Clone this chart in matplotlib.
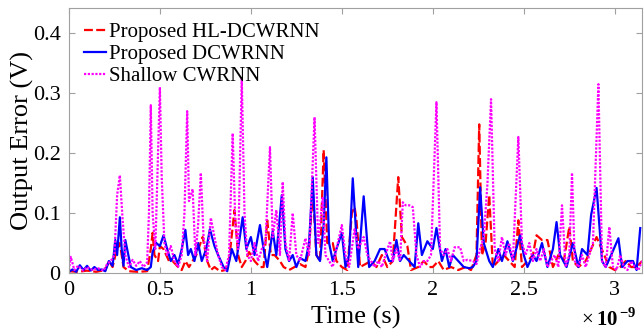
import matplotlib
matplotlib.use("Agg")
import matplotlib.pyplot as plt

plt.rcParams['font.family'] = ['Liberation Serif', 'DejaVu Serif']
plt.rcParams['mathtext.fontset'] = 'custom'
plt.rcParams['mathtext.rm'] = 'Liberation Serif'
plt.rcParams['mathtext.bf'] = 'Liberation Serif:bold'

# time in units of 1e-9 s
t_hl = [0, 0.05, 0.1, 0.15, 0.2, 0.22, 0.24, 0.26, 0.28, 0.3,
        0.33, 0.38, 0.43, 0.45, 0.46, 0.47, 0.49, 0.5, 0.52, 0.55,
        0.57, 0.6, 0.62, 0.64, 0.66, 0.68, 0.7, 0.735, 0.76, 0.78,
        0.8, 0.83, 0.86, 0.88, 0.91, 0.93, 0.95, 0.97, 0.99, 1.02,
        1.05, 1.07, 1.09, 1.11, 1.13, 1.16, 1.18, 1.21, 1.24, 1.27,
        1.3, 1.32, 1.34, 1.36, 1.38, 1.4, 1.42, 1.45, 1.47, 1.5,
        1.53, 1.555, 1.57, 1.58, 1.6, 1.63, 1.66, 1.69, 1.72, 1.75,
        1.78, 1.81, 1.83, 1.86, 1.88, 1.92, 1.95, 1.98, 2.0, 2.03,
        2.06, 2.1, 2.14, 2.18, 2.21, 2.24, 2.255, 2.27, 2.29, 2.31,
        2.33, 2.36, 2.39, 2.42, 2.45, 2.47, 2.49, 2.52, 2.55, 2.57,
        2.6, 2.63, 2.66, 2.69, 2.72, 2.75, 2.77, 2.8, 2.84, 2.87,
        2.9, 2.935, 2.97, 3.0, 3.03, 3.06, 3.09, 3.12, 3.15]
v_hl = [0.003, 0.002, 0.004, 0.002, 0.005, 0.02, 0.01, 0.035, 0.05, 0.01,
        0.003, 0.002, 0.003, 0.04, 0.067, 0.03, 0.02, 0.045, 0.04, 0.02,
        0.02, 0.01, 0.005, 0.02, 0.01, 0.02, 0.03, 0.06, 0.02, 0.005,
        0.01, 0.003, 0.005, 0.02, 0.105, 0.03, 0.01, 0.02, 0.035, 0.02,
        0.01, 0.01, 0.088, 0.03, 0.03, 0.02, 0.01, 0.005, 0.01, 0.015,
        0.01, 0.04, 0.14, 0.03, 0.02, 0.205, 0.05, 0.05, 0.02, 0.01,
        0.005, 0.1, 0.11, 0.09, 0.01, 0.015, 0.02, 0.01, 0.03, 0.01,
        0.02, 0.16, 0.06, 0.045, 0.005, 0.01, 0.02, 0.01, 0.01, 0.02,
        0.005, 0.01, 0.005, 0.01, 0.005, 0.03, 0.248, 0.03, 0.05, 0.13,
        0.01, 0.02, 0.03, 0.02, 0.01, 0.088, 0.01, 0.02, 0.03, 0.063,
        0.055, 0.055, 0.01, 0.03, 0.02, 0.077, 0.02, 0.01, 0.02, 0.04,
        0.06, 0.035, 0.01, 0.005, 0.01, 0.02, 0.01, 0.01, 0.02]

t_dc = [0, 0.02, 0.04, 0.06, 0.08, 0.1, 0.12, 0.14, 0.16, 0.18,
        0.2, 0.22, 0.24, 0.255, 0.265, 0.28, 0.29, 0.3, 0.31, 0.32,
        0.34, 0.37, 0.4, 0.43, 0.45, 0.46, 0.48, 0.5, 0.52, 0.54,
        0.56, 0.58, 0.6, 0.62, 0.64, 0.655, 0.67, 0.69, 0.71, 0.73,
        0.755, 0.775, 0.8, 0.82, 0.85, 0.87, 0.895, 0.92, 0.955, 0.975,
        1.0, 1.02, 1.05, 1.07, 1.09, 1.12, 1.14, 1.17, 1.19, 1.21,
        1.23, 1.25, 1.27, 1.3, 1.32, 1.34, 1.36, 1.38, 1.4, 1.415,
        1.43, 1.45, 1.47, 1.5, 1.52, 1.54, 1.56, 1.59, 1.62, 1.65,
        1.68, 1.71, 1.735, 1.76, 1.78, 1.8, 1.82, 1.84, 1.87, 1.9,
        1.92, 1.94, 1.97, 2.0, 2.02, 2.05, 2.07, 2.09, 2.11, 2.14,
        2.17, 2.2, 2.22, 2.24, 2.26, 2.28, 2.31, 2.33, 2.36, 2.38,
        2.41, 2.44, 2.48, 2.5, 2.52, 2.55, 2.57, 2.6, 2.63, 2.66,
        2.68, 2.7, 2.735, 2.77, 2.8, 2.82, 2.85, 2.87, 2.9, 2.93,
        2.95, 2.98, 3.02, 3.04, 3.07, 3.1, 3.12, 3.14]
v_dc = [0.002, 0.006, 0.002, 0.013, 0.005, 0.012, 0.004, 0.01, 0.005, 0.006,
        0.003, 0.02, 0.012, 0.055, 0.03, 0.093, 0.04, 0.012, 0.055, 0.04,
        0.01, 0.005, 0.008, 0.005, 0.01, 0.035, 0.05, 0.045, 0.063, 0.04,
        0.02, 0.03, 0.015, 0.04, 0.072, 0.03, 0.04, 0.02, 0.05, 0.02,
        0.04, 0.073, 0.045, 0.03, 0.01, 0.003, 0.04, 0.02, 0.093, 0.04,
        0.06, 0.03, 0.08, 0.04, 0.01, 0.07, 0.03, 0.13, 0.04, 0.02,
        0.03, 0.01, 0.025, 0.02, 0.05, 0.16, 0.03, 0.02, 0.08, 0.193,
        0.05, 0.02, 0.04, 0.067, 0.01, 0.03, 0.158, 0.01, 0.128, 0.01,
        0.02, 0.04, 0.04, 0.02, 0.02, 0.055, 0.02, 0.03, 0.02, 0.01,
        0.083, 0.03, 0.053, 0.04, 0.075, 0.02, 0.04, 0.01, 0.03, 0.02,
        0.01, 0.008, 0.01, 0.02, 0.143, 0.05, 0.02, 0.01, 0.04, 0.02,
        0.053, 0.02, 0.063, 0.03, 0.01, 0.03, 0.02, 0.05, 0.01, 0.04,
        0.085, 0.03, 0.01, 0.05, 0.01, 0.04, 0.03, 0.097, 0.142, 0.02,
        0.01, 0.03, 0.058, 0.01, 0.02, 0.02, 0.005, 0.075]

t_sh = [0, 0.01, 0.03, 0.05, 0.08, 0.1, 0.13, 0.16, 0.19, 0.21,
        0.23, 0.25, 0.265, 0.28, 0.295, 0.31, 0.33, 0.35, 0.37, 0.39,
        0.41, 0.43, 0.44, 0.45, 0.46, 0.475, 0.49, 0.5, 0.51, 0.525,
        0.54, 0.56, 0.58, 0.6, 0.62, 0.635, 0.65, 0.66, 0.68, 0.695,
        0.71, 0.725, 0.74, 0.76, 0.78, 0.8, 0.82, 0.84, 0.86, 0.88,
        0.9, 0.915, 0.93, 0.95, 0.965, 0.98, 1.0, 1.02, 1.04, 1.06,
        1.08, 1.105, 1.12, 1.14, 1.16, 1.175, 1.19, 1.21, 1.23, 1.25,
        1.27, 1.3, 1.32, 1.35, 1.37, 1.395, 1.41, 1.43, 1.45, 1.47,
        1.5, 1.52, 1.54, 1.57, 1.59, 1.62, 1.64, 1.66, 1.68, 1.7,
        1.72, 1.74, 1.765, 1.78, 1.8, 1.82, 1.835, 1.85, 1.87, 1.89,
        1.91, 1.93, 1.95, 1.97, 1.99, 2.02, 2.04, 2.06, 2.08, 2.1,
        2.12, 2.15, 2.17, 2.19, 2.22, 2.24, 2.26, 2.28, 2.3, 2.32,
        2.34, 2.36, 2.38, 2.4, 2.42, 2.44, 2.47, 2.49, 2.51, 2.53,
        2.55, 2.57, 2.59, 2.61, 2.63, 2.65, 2.67, 2.69, 2.71, 2.73,
        2.75, 2.765, 2.78, 2.8, 2.82, 2.84, 2.86, 2.88, 2.91, 2.93,
        2.95, 2.97, 2.99, 3.01, 3.03, 3.05, 3.07, 3.09, 3.11, 3.13,
        3.15]
v_sh = [0.005, 0.027, 0.005, 0.012, 0.004, 0.01, 0.005, 0.008, 0.004, 0.015,
        0.02, 0.03, 0.13, 0.163, 0.09, 0.03, 0.01, 0.022, 0.012, 0.02,
        0.01, 0.018, 0.1, 0.28, 0.1, 0.04, 0.2, 0.31, 0.16, 0.05,
        0.03, 0.045, 0.02, 0.01, 0.03, 0.1, 0.27, 0.12, 0.14, 0.03,
        0.08, 0.167, 0.06, 0.02, 0.092, 0.06, 0.03, 0.01, 0.005, 0.03,
        0.233, 0.08, 0.04, 0.325, 0.1, 0.03, 0.02, 0.05, 0.02, 0.04,
        0.05, 0.21, 0.06, 0.105, 0.03, 0.152, 0.05, 0.02, 0.1, 0.03,
        0.02, 0.058, 0.03, 0.26, 0.05, 0.127, 0.03, 0.02, 0.01, 0.04,
        0.08, 0.03, 0.01, 0.073, 0.04, 0.06, 0.03, 0.02, 0.01, 0.02,
        0.01, 0.03, 0.053, 0.02, 0.04, 0.02, 0.118, 0.113, 0.113, 0.11,
        0.03, 0.01, 0.02, 0.02, 0.03, 0.285, 0.04, 0.03, 0.04, 0.02,
        0.043, 0.043, 0.02, 0.022, 0.02, 0.015, 0.04, 0.06, 0.148, 0.29,
        0.04, 0.02, 0.06, 0.03, 0.05, 0.02, 0.227, 0.05, 0.03, 0.05,
        0.02, 0.04, 0.02, 0.04, 0.01, 0.02, 0.03, 0.01, 0.113, 0.01,
        0.03, 0.167, 0.02, 0.01, 0.03, 0.01, 0.03, 0.05, 0.315, 0.02,
        0.01, 0.077, 0.01, 0.005, 0.03, 0.01, 0.005, 0.02, 0.01, 0.005,
        0.02]

labels = ['Proposed HL-DCWRNN', 'Proposed DCWRNN', 'Shallow CWRNN']
x_ticks = [0, 0.5, 1, 1.5, 2, 2.5, 3]
x_tick_labels = ['0', '0.5', '1', '1.5', '2', '2.5', '3']
y_ticks = [0, 0.1, 0.2, 0.3, 0.4]
y_tick_labels = ['0', '0.1', '0.2', '0.3', '0.4']

fig = plt.figure(figsize=(6.44, 3.35), dpi=100)
ax = fig.add_axes([0.107, 0.185, 0.890, 0.791])

ax.plot(t_hl, v_hl, color='#ff0000', linestyle=(0, (4, 1.5)), linewidth=1.6, label=labels[0])
ax.plot(t_dc, v_dc, color='#0000ff', linestyle='-', linewidth=1.6, label=labels[1])
ax.plot(t_sh, v_sh, color='#ff00ff', linestyle=(0, (1, 0.7)), linewidth=1.6, label=labels[2])

ax.set_xlim(0, 3.15)
ax.set_ylim(0, 0.442)
ax.set_xticks(x_ticks)
ax.set_xticklabels(x_tick_labels)
ax.set_yticks(y_ticks)
ax.set_yticklabels(y_tick_labels)
ax.tick_params(direction='in', top=True, right=True, labelsize=16, length=4,
               width=0.8, color='#a0a0a0', pad=6)
for s in ax.spines.values():
    s.set_color('#a0a0a0')
    s.set_linewidth(0.8)

ax.set_xlabel('Time (s)', fontsize=19, labelpad=4)
ax.set_ylabel('Output Error (V)', fontsize=19, labelpad=-1)

leg = ax.legend(loc='upper left', frameon=False, fontsize=15, handlelength=1.05,
                handletextpad=0.15, labelspacing=0.12, borderaxespad=0.0,
                borderpad=0.4, bbox_to_anchor=(0.012, 0.977))

fig.text(0.902, 0.012, r'$\times\,\mathbf{10}^{\,\mathbf{-9}}$', fontsize=15, ha='left', va='bottom')

fig.savefig('out.png', dpi=100)
